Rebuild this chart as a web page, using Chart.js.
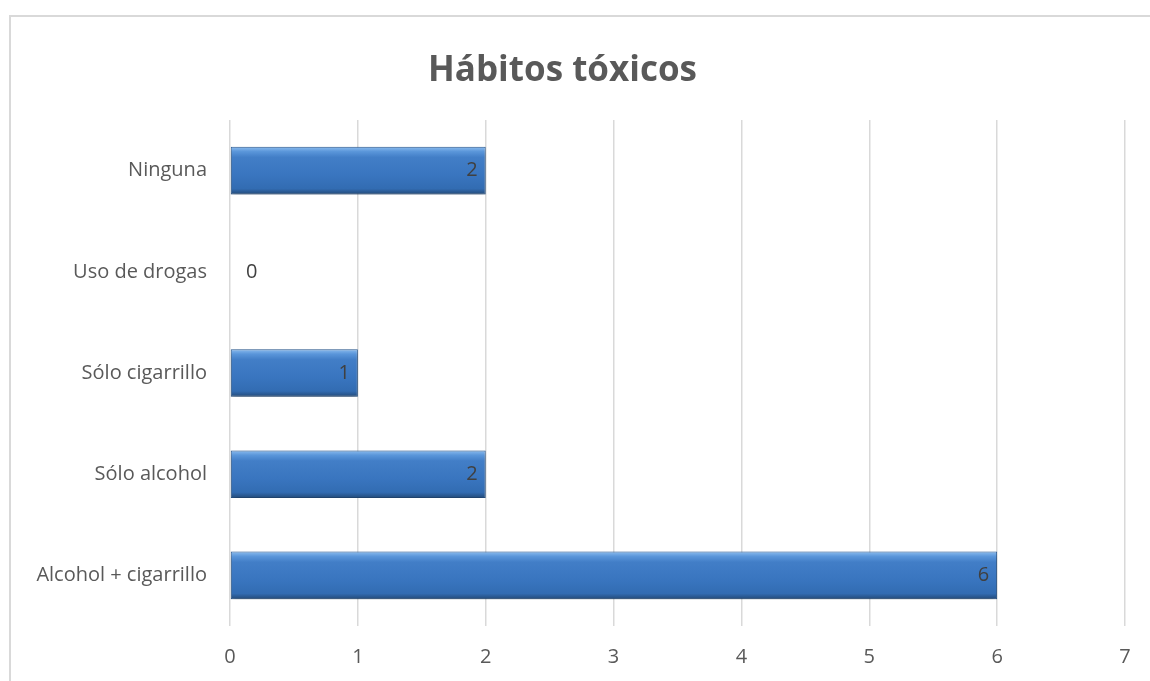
<!DOCTYPE html>
<html>
<head>
<meta charset="utf-8">
<script src="https://cdn.jsdelivr.net/npm/chart.js@4.4.1/dist/chart.umd.min.js"></script>
<style>
  html, body { margin: 0; padding: 0; background: #fff; overflow: hidden; }
  #wrap { position: relative; width: 1150px; height: 681px; }
  #frame { position: absolute; left: 9px; top: 15px; width: 1200px; height: 700px;
           border-left: 2px solid #d9d9d9; border-top: 2px solid #d9d9d9; }
  canvas { position: absolute; left: 0; top: 0; }
</style>
</head>
<body>
<div id="wrap">
  <div id="frame"></div>
  <canvas id="habitos" width="1150" height="681"></canvas>
</div>
<script>
  const categorias = ['Ninguna', 'Uso de drogas', 'Sólo cigarrillo', 'Sólo alcohol', 'Alcohol + cigarrillo'];
  const cantidades = [2, 0, 1, 2, 6];
  const ejeX = { min: 0, max: 7, step: 1 };

  const fuente = '"Open Sans", Lato, sans-serif';
  const grosor = 0.47;

  // vertical gradient per bar to get the bevelled look
  function relleno(context) {
    const chart = context.chart;
    const escala = chart.scales.y;
    if (!escala || !chart.chartArea) return '#3B78C2';
    const centro = escala.getPixelForValue(context.dataIndex);
    const h = chart.chartArea.height / categorias.length * grosor;
    const top = centro - h / 2;
    const g = chart.ctx.createLinearGradient(0, top, 0, top + h);
    g.addColorStop(0, '#8CBCEE');
    g.addColorStop(0.1, '#5A96DA');
    g.addColorStop(0.22, '#427EC7');
    g.addColorStop(0.6, '#3975BF');
    g.addColorStop(0.88, '#326CB2');
    g.addColorStop(1, '#234A78');
    return g;
  }

  const sombra = {
    id: 'sombra',
    beforeDatasetDraw(chart) {
      const ctx = chart.ctx;
      ctx.save();
      ctx.shadowColor = 'rgba(0,0,0,0.35)';
      ctx.shadowBlur = 6;
      ctx.shadowOffsetY = 3;
    },
    afterDatasetDraw(chart) {
      chart.ctx.restore();
    }
  };

  const etiquetas = {
    id: 'etiquetas',
    afterDatasetsDraw(chart) {
      const ctx = chart.ctx;
      const meta = chart.getDatasetMeta(0);
      ctx.save();
      ctx.font = '20px ' + fuente;
      ctx.fillStyle = '#404040';
      ctx.textBaseline = 'middle';
      meta.data.forEach((bar, i) => {
        const v = cantidades[i];
        if (v === 0) {
          ctx.textAlign = 'left';
          ctx.fillText(String(v), bar.x + 16, bar.y);
        } else {
          ctx.textAlign = 'right';
          ctx.fillText(String(v), bar.x - 8, bar.y);
        }
      });
      ctx.restore();
    }
  };

  new Chart(document.getElementById('habitos'), {
    type: 'bar',
    data: {
      labels: categorias,
      datasets: [{
        data: cantidades,
        backgroundColor: relleno,
        borderColor: '#2B5C96',
        borderWidth: 1,
        borderSkipped: false,
        categoryPercentage: grosor,
        barPercentage: 1
      }]
    },
    options: {
      indexAxis: 'y',
      responsive: false,
      animation: false,
      layout: { padding: { left: 0, right: 25, top: 0, bottom: 0 } },
      plugins: {
        legend: { display: false },
        tooltip: { enabled: false },
        title: {
          display: true,
          text: 'Hábitos tóxicos',
          color: '#595959',
          font: { family: fuente, size: 35, weight: 'bold' },
          padding: { top: 50, bottom: 28 }
        }
      },
      scales: {
        x: {
          min: ejeX.min,
          max: ejeX.max,
          ticks: { stepSize: ejeX.step, color: '#595959', font: { family: fuente, size: 20 }, padding: 19 },
          grid: { color: '#d9d9d9', lineWidth: 1.5, drawTicks: false },
          border: { display: false },
          afterFit(scale) { scale.height = 55; }
        },
        y: {
          ticks: { color: '#595959', font: { family: fuente, size: 20 }, padding: 23 },
          grid: { display: false, drawTicks: false },
          border: { display: false },
          afterFit(scale) { scale.width = 230; }
        }
      }
    },
    plugins: [sombra, etiquetas]
  });
</script>
</body>
</html>
